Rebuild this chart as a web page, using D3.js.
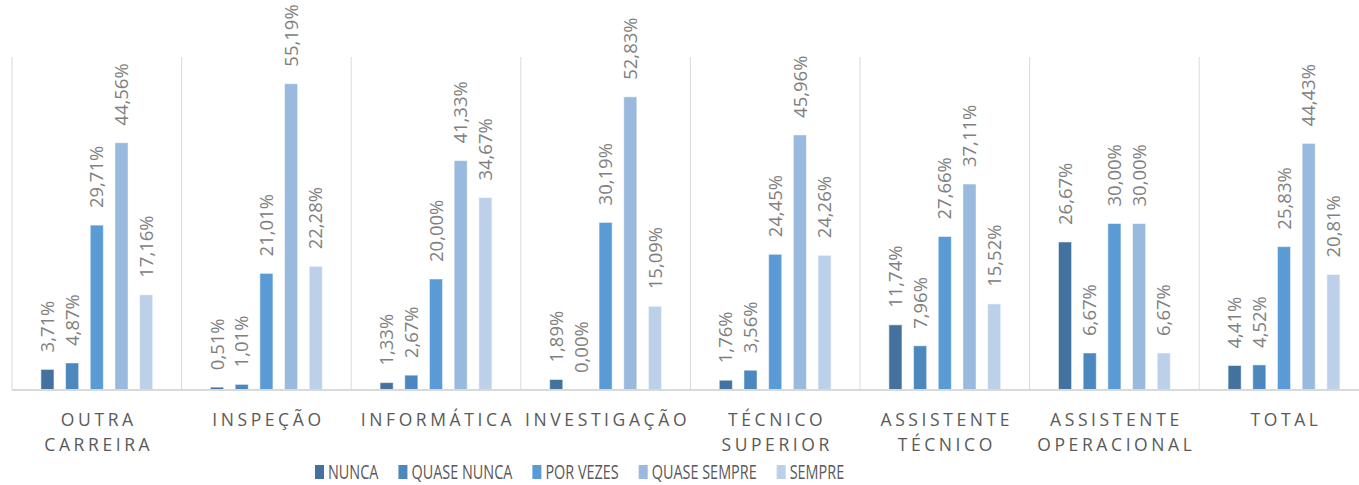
<!DOCTYPE html>
<html>
<head>
<meta charset="utf-8">
<script src="https://cdn.jsdelivr.net/npm/d3@7"></script>
<style>
    body { margin: 0; background: #fff; }
    svg { display: block; }
</style>
</head>
<body>
<div id="chart"></div>
<script>
/*
    Grouped bar chart: frequency by career
 */

const categories = [
    ["OUTRA", "CARREIRA"],
    ["INSPEÇÃO"],
    ["INFORMÁTICA"],
    ["INVESTIGAÇÃO"],
    ["TÉCNICO", "SUPERIOR"],
    ["ASSISTENTE", "TÉCNICO"],
    ["ASSISTENTE", "OPERACIONAL"],
    ["TOTAL"]
];
const seriesNames = ["NUNCA", "QUASE NUNCA", "POR VEZES", "QUASE SEMPRE", "SEMPRE"];
const nunca       = [3.71, 0.51, 1.33, 1.89, 1.76, 11.74, 26.67, 4.41];
const quaseNunca  = [4.87, 1.01, 2.67, 0.00, 3.56, 7.96, 6.67, 4.52];
const porVezes    = [29.71, 21.01, 20.00, 30.19, 24.45, 27.66, 30.00, 25.83];
const quaseSempre = [44.56, 55.19, 41.33, 52.83, 45.96, 37.11, 30.00, 44.43];
const sempre      = [17.16, 22.28, 34.67, 15.09, 24.26, 15.52, 6.67, 20.81];
const colors = ["#43729e", "#4c87bd", "#5b9bd5", "#9ab9df", "#bdd0ea"];

const WIDTH = 1359, HEIGHT = 485;
const series = [nunca, quaseNunca, porVezes, quaseSempre, sempre];
const catKeys = categories.map(c => c.join(" "));

const svg = d3.select("#chart").append("svg")
    .attr("width", WIDTH)
    .attr("height", HEIGHT);

const plotLeft = 12, plotTop = 57, baseline = 390, catWidth = 169.6;

let x0 = d3.scaleBand()
    .domain(catKeys)
    .range([plotLeft, plotLeft + catWidth * catKeys.length])
    .padding(0);

let x1 = d3.scaleBand()
    .domain(seriesNames)
    .range([0, x0.bandwidth()])
    .paddingInner(0.47)
    .paddingOuter(1.17);

let y = d3.scaleLinear()
    .domain([0, 60])
    .range([baseline, plotTop]);

// vertical separators between categories
let seps = catKeys.map(k => x0(k)).concat([x0.range()[1]]);
svg.selectAll(".sep").data(seps).enter().append("line")
    .attr("class", "sep")
    .attr("x1", d => d).attr("x2", d => d)
    .attr("y1", plotTop).attr("y2", baseline)
    .attr("stroke", "#d9d9d9").attr("stroke-width", 1);

// flatten the data for the bars
let flat = [];
catKeys.forEach((k, ci) => {
    series.forEach((s, si) => {
        flat.push({cat: k, name: seriesNames[si], value: s[ci], color: colors[si]});
    });
});

svg.selectAll(".bar").data(flat).enter().append("rect")
    .attr("class", "bar")
    .attr("x", d => x0(d.cat) + x1(d.name))
    .attr("y", d => y(d.value))
    .attr("width", x1.bandwidth())
    .attr("height", d => baseline - y(d.value))
    .attr("fill", d => d.color)
    .attr("stroke", "#ffffff")
    .attr("stroke-opacity", 0.5)
    .attr("stroke-width", 1);

// baseline
svg.append("line")
    .attr("x1", plotLeft).attr("x2", WIDTH)
    .attr("y1", baseline).attr("y2", baseline)
    .attr("stroke", "#d9d9d9").attr("stroke-width", 2);

// rotated value labels
svg.selectAll(".val").data(flat).enter().append("text")
    .attr("class", "val")
    .attr("transform", d => {
        let cx = x0(d.cat) + x1(d.name) + x1.bandwidth() / 2;
        return `translate(${cx},${y(d.value) - 17}) rotate(-90)`;
    })
    .attr("dy", "0.36em")
    .attr("text-anchor", "start")
    .attr("font-family", "'Open Sans', sans-serif")
    .attr("font-size", 18.5)
    .attr("fill", "#808080")
    .text(d => d.value.toFixed(2).replace(".", ",") + "%");

// category labels
let catLabels = svg.selectAll(".cat").data(categories).enter().append("text")
    .attr("class", "cat")
    .attr("text-anchor", "middle")
    .attr("font-family", "'Open Sans', sans-serif")
    .attr("font-size", 17.5)
    .attr("letter-spacing", 3.6)
    .attr("fill", "#595959");
catLabels.each(function(d, i) {
    let t = d3.select(this);
    d.forEach((line, li) => {
        t.append("tspan")
            .attr("x", x0(catKeys[i]) + x0.bandwidth() / 2 + 2)
            .attr("y", 426 + li * 24.5)
            .text(line);
    });
});

// legend
let legendX = 315;
seriesNames.forEach((name, i) => {
    svg.append("rect")
        .attr("x", legendX).attr("y", 465)
        .attr("width", 9).attr("height", 14)
        .attr("fill", colors[i]);
    let t = svg.append("text")
        .attr("transform", `translate(${legendX + 13},479) scale(0.74,1)`)
        .attr("font-family", "'Open Sans', sans-serif")
        .attr("font-size", 19.5)
        .attr("fill", "#595959")
        .text(name);
    let w = t.node().getComputedTextLength() * 0.74;
    legendX += 13 + w + 20;
});
</script>
</body>
</html>
